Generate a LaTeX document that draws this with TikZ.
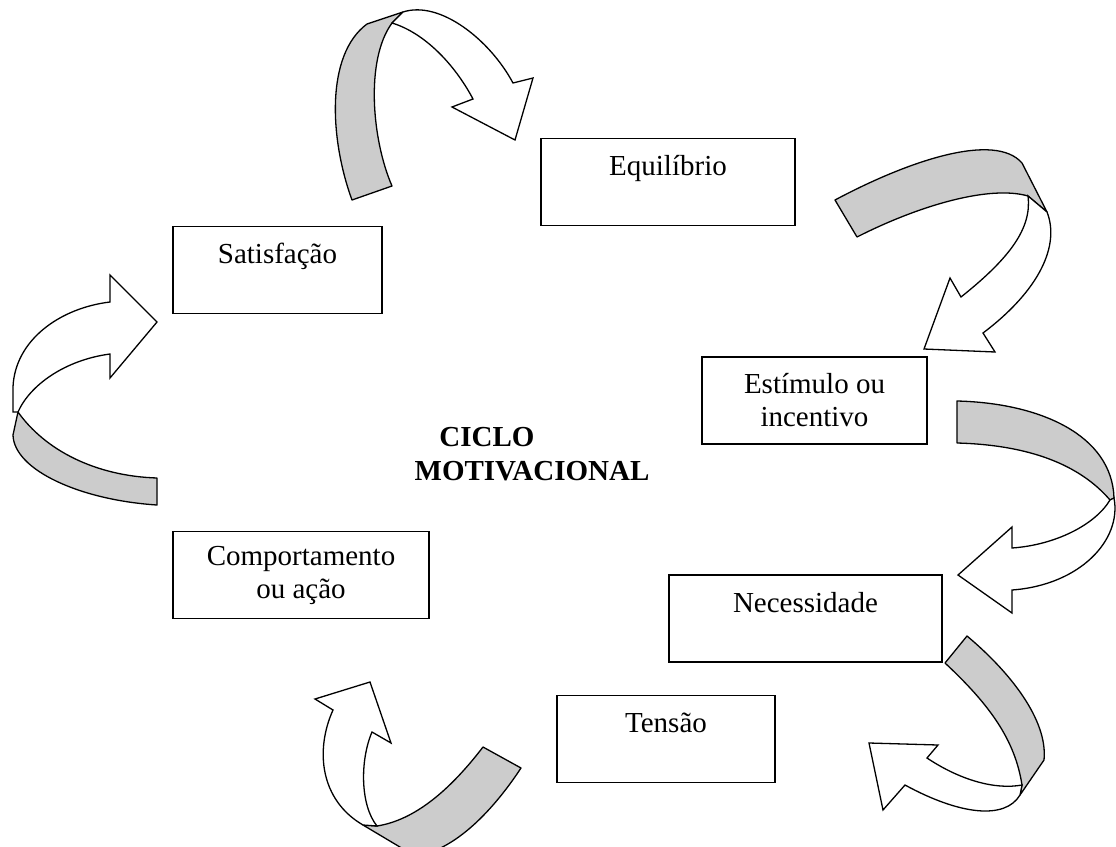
\documentclass[tikz,border=0pt]{standalone}
\usepackage{fontspec}
\setmainfont{Liberation Serif}
\tikzset{
  caixa/.style={draw, line width=1.3pt, align=center, inner sep=0pt,
    minimum height=87pt, font=\fontsize{29}{33}\selectfont},
  titulo/.style={font=\fontsize{29}{33}\selectfont\bfseries, inner sep=0pt},
  fita/.style={draw, line width=1.3pt, fill=black!20, line join=round},
  seta/.style={draw, line width=1.3pt, fill=white, line join=miter},
}
\begin{document}
\begin{tikzpicture}[x=1pt, y=-1pt]
  \clip (0,0) rectangle (1116,846);
  \node[caixa, minimum width=209pt] (satisf) at (277.5,270) {Satisfação\\ \mbox{}};
  \node[caixa, minimum width=254pt] (equil) at (668,182) {Equilíbrio\\ \mbox{}};
  \node[caixa, minimum width=225pt] (estim) at (814.5,400.5) {Estímulo ou\\ incentivo};
  \node[caixa, minimum width=273pt] (neces) at (805.5,618.5) {Necessidade\\ \mbox{}};
  \node[caixa, minimum width=218pt] (tensao) at (666,739) {Tensão\\ \mbox{}};
  \node[caixa, minimum width=256pt] (comport) at (301,575) {Comportamento\\ ou ação};
  \node[titulo] (ciclo) at (487,437) {CICLO};
  \node[titulo] (motiv) at (532,471) {MOTIVACIONAL};
  % satisfacao -> equilibrio
  \path[fita] (352,200) .. controls (330,140) and (325,55) .. (367,24) -- (403,12) -- (392,23)
    .. controls (365,60) and (372,140) .. (392,186) -- cycle;
  \path[seta] (403,12) .. controls (440,0) and (490,40) .. (513,83) -- (533,78) -- (515,140)
    -- (452,107) -- (473,99) .. controls (455,65) and (425,33) .. (392,23) -- cycle;
  % equilibrio -> estimulo
  \path[fita] (835,200) .. controls (910,160) and (995,132) .. (1022,163) -- (1047,212) -- (1028,196)
    .. controls (990,185) and (920,205) .. (857,237) -- cycle;
  \path[seta] (1047,212) .. controls (1060,245) and (1040,290) .. (983,333) -- (995,352) -- (924,349)
    -- (950,278) -- (961,297) .. controls (1010,258) and (1032,228) .. (1028,196) -- cycle;
  % estimulo -> necessidade
  \path[fita] (957,401) .. controls (1040,403) and (1112,435) .. (1114,498) -- (1110,500)
    .. controls (1080,465) and (1030,445) .. (957,443) -- cycle;
  \path[seta] (1114,498) .. controls (1122,540) and (1080,585) .. (1012,590) -- (1012,613) -- (958,575)
    -- (1012,527) -- (1012,548) .. controls (1055,545) and (1095,525) .. (1110,500) -- cycle;
  % necessidade -> tensao
  \path[fita] (967,636) .. controls (1010,672) and (1048,720) .. (1044,760) -- (1020,795) -- (1022,785)
    .. controls (1015,740) and (990,705) .. (945,663) -- cycle;
  \path[seta] (1020,795) .. controls (1005,820) and (960,815) .. (905,785) -- (883,810) -- (869,743)
    -- (938,745) -- (927,758) .. controls (960,780) and (995,790) .. (1022,785) -- cycle;
  % tensao -> comportamento
  \path[fita] (483,747) .. controls (450,790) and (415,820) .. (377,826) -- (363,825) -- (415,856)
    .. controls (460,850) and (500,800) .. (521,768) -- cycle;
  \path[seta] (363,825) .. controls (320,800) and (315,750) .. (333,710) -- (315,699) -- (370,682)
    -- (391,743) -- (372,732) .. controls (360,760) and (360,805) .. (377,826) -- cycle;
  % comportamento -> satisfacao
  \path[fita] (18,412) .. controls (45,450) and (95,476) .. (157,478) -- (157,505)
    .. controls (80,500) and (14,470) .. (13,435) -- cycle;
  \path[seta] (13,412) -- (13,387) .. controls (15,340) and (60,308) .. (110,302) -- (110,275)
    -- (157,322) -- (110,378) -- (110,354) .. controls (65,360) and (30,385) .. (18,412) -- cycle;
\end{tikzpicture}
\end{document}
